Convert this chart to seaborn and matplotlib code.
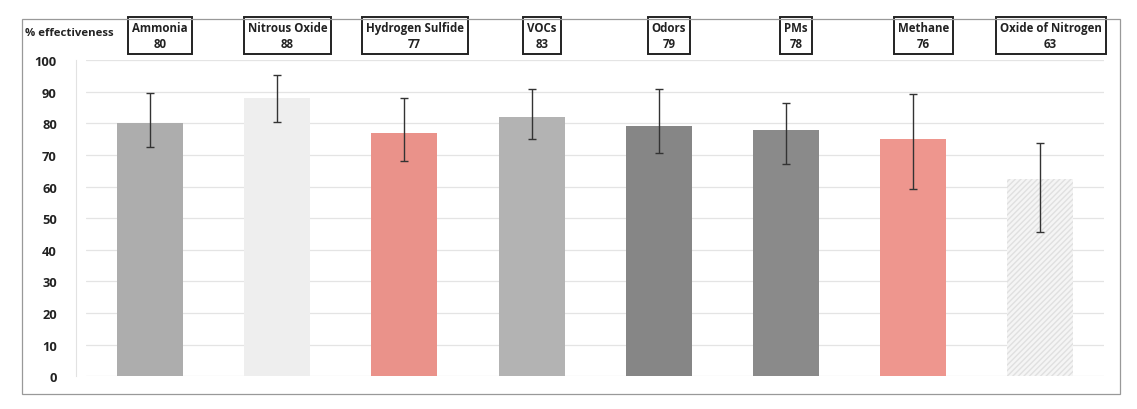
import numpy as np
import pandas as pd
import matplotlib
matplotlib.use("Agg")
import matplotlib.pyplot as plt
import seaborn as sns
from matplotlib.patches import Rectangle

# ------------------------------------------------------------
# podaci (ocitano sa slike)
# ------------------------------------------------------------
kategorije = ["Ammonia", "Nitrous Oxide", "Hydrogen Sulfide", "VOCs",
              "Odors", "PMs", "Methane", "Oxide of Nitrogen"]
vrijednosti = [80, 88, 77, 82, 79, 78, 75, 62.5]
err_donja = [72.6, 80.5, 68.0, 75.0, 70.7, 67.2, 59.3, 45.6]
err_gornja = [89.5, 95.3, 87.9, 91.0, 91.0, 86.5, 89.2, 73.7]
oznake = [80, 88, 77, 83, 79, 78, 76, 63]
boje = ["#adadad", "#eeeeee", "#ea928a", "#b3b3b3",
        "#868686", "#8a8a8a", "#ee968e", "#f5f5f5"]

df = pd.DataFrame({"kategorija": kategorije, "vrijednost": vrijednosti})

sns.set_style("white")
plt.rcParams["font.family"] = ["Open Sans", "DejaVu Sans"]

fig = plt.figure(figsize=(11.37, 4.10), dpi=100)
ax = fig.add_axes([0.076, 0.080, 0.895, 0.771])

sns.barplot(data=df, x="kategorija", y="vrijednost", hue="kategorija",
            palette=boje, legend=False, width=0.52, saturation=1, ax=ax,
            edgecolor="none", linewidth=0)

# srafura za zadnji stubac
ax.patches[-1].set_hatch("//////")
ax.patches[-1].set_edgecolor("#e0e0e0")
ax.patches[-1].set_linewidth(0)

# asimetricne greske
x = np.arange(len(kategorije))
v = np.array(vrijednosti)
yerr = np.vstack([v - np.array(err_donja), np.array(err_gornja) - v])
ax.errorbar(x, v, yerr=yerr, fmt="none", ecolor="#333333",
            elinewidth=1.0, capsize=3, capthick=1.0, zorder=5)

ax.set_ylim(0, 100)
ax.set_xlim(-0.5, len(kategorije) - 0.5)
ax.set_yticks(range(0, 101, 10))
ax.yaxis.grid(True, color="#e4e4e4", linewidth=0.9)
ax.set_axisbelow(True)
ax.set_xlabel("")
ax.set_ylabel("")
ax.set_xticks([])
for s in ["top", "right", "bottom"]:
    ax.spines[s].set_visible(False)
ax.spines["left"].set_color("#e2e2e2")
ax.spines["left"].set_linewidth(0.8)
ax.spines["left"].set_position(("axes", -0.01))
ax.tick_params(axis="y", length=0, pad=14, labelsize=9.3, colors="#222222")
for t in ax.get_yticklabels():
    t.set_fontweight("bold")

# natpisi iznad stubaca
for i, (k, o) in enumerate(zip(kategorije, oznake)):
    ax.text(i + 0.08, 107.8, f"{k}\n{o}", ha="center", va="center",
            fontsize=8.3, fontweight="bold", color="#222222",
            linespacing=1.35, clip_on=False,
            bbox=dict(boxstyle="square,pad=0.35", facecolor="white",
                      edgecolor="#222222", linewidth=1.4))

fig.text(0.022, 0.918, "% effectiveness", fontsize=8.2, fontweight="bold",
         color="#222222", ha="left", va="center")

# okvir grafikona
fig.patches.append(Rectangle((0.019, 0.037), 0.966, 0.914,
                             transform=fig.transFigure, fill=False,
                             edgecolor="#999999", linewidth=0.9))

plt.savefig("out.png", dpi=100)
